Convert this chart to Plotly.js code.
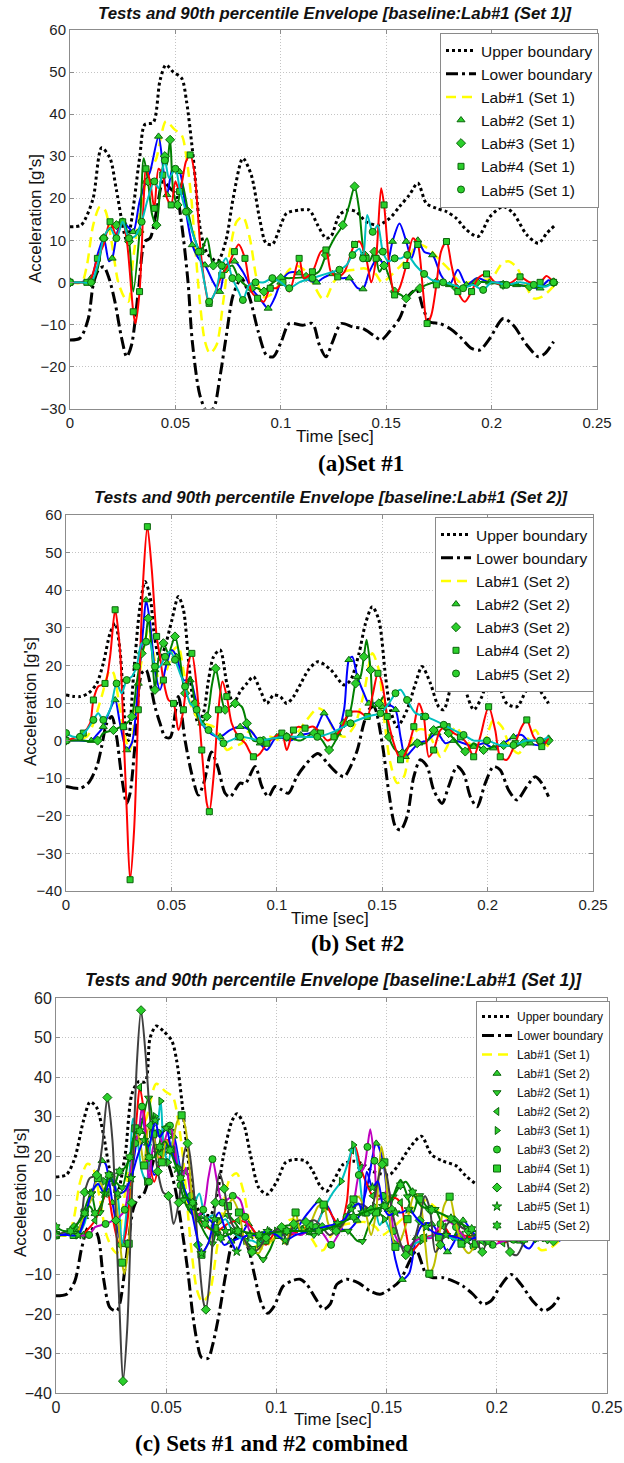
<!DOCTYPE html>
<html><head><meta charset="utf-8">
<script src="https://cdn.plot.ly/plotly-3.0.1.min.js"></script>
<style>html,body{margin:0;padding:0;background:#fff}#chart{width:624px;height:1463px}</style>
</head><body><div id="chart"></div>
<script>
// ---------- DATA (time [sec], acceleration [g's]) ----------
const A_UP = [[0,13.2],[0.005,13.5],[0.007,14.8],[0.011,20],[0.015,32],[0.019,29.5],[0.022,22],[0.027,10],[0.033,29.5],[0.0355,37.5],[0.0395,38],[0.0427,48],[0.0455,51.7],[0.049,50],[0.053,48.5],[0.0553,43],[0.0585,29.5],[0.062,12],[0.065,7],[0.07,5],[0.074,10],[0.0774,20],[0.082,29.5],[0.086,25.5],[0.09,15],[0.093,9.3],[0.096,9],[0.1,13.6],[0.1027,16.4],[0.109,17.2],[0.1135,17.2],[0.1175,13.6],[0.1214,10.5],[0.1238,10.9],[0.1278,16],[0.1317,17.2],[0.1357,16.8],[0.1405,14.4],[0.146,13.6],[0.1516,15.2],[0.1563,18],[0.161,20.8],[0.165,23.6],[0.169,18.8],[0.1738,17.6],[0.1786,16.8],[0.1833,15.2],[0.188,12.5],[0.1936,10.9],[0.1992,15.6],[0.2055,18],[0.2103,16.4],[0.2167,11.3],[0.2222,9.3],[0.2262,11.7],[0.2302,13.6]];
const A_LO = [[0,-13.7],[0.0047,-13.3],[0.0087,-8.6],[0.011,-0.6],[0.0135,3],[0.016,3.7],[0.0185,1],[0.0213,-4.6],[0.0245,-13.3],[0.0269,-17.7],[0.0292,-14.9],[0.0324,-2.2],[0.0355,9.7],[0.038,10.5],[0.041,16.8],[0.0442,24],[0.0474,22.4],[0.0505,20.8],[0.053,13.7],[0.056,0],[0.058,-14],[0.0616,-26.8],[0.0648,-30.5],[0.068,-30],[0.071,-22.9],[0.0742,-12.5],[0.0774,-3],[0.0814,1],[0.0853,-3.8],[0.0893,-11.7],[0.0932,-17.3],[0.0964,-17.7],[0.1003,-14],[0.104,-9.8],[0.1103,-10.2],[0.115,-9.8],[0.1183,-14.9],[0.1214,-17.7],[0.1246,-14.1],[0.1286,-9.8],[0.1341,-10.6],[0.1389,-11],[0.1437,-12.5],[0.1476,-13.7],[0.1516,-11.7],[0.1563,-8.6],[0.161,-3],[0.1645,-1.8],[0.1675,-6.2],[0.1706,-9.4],[0.1754,-9.8],[0.1802,-11],[0.1849,-12.9],[0.1905,-15.7],[0.1944,-16.1],[0.1992,-13.3],[0.2055,-8.6],[0.2103,-10.2],[0.2167,-14.9],[0.2222,-17.7],[0.2254,-16.9],[0.2294,-14.1]];
const A_L1 = [[0,0],[0.0055,0],[0.008,4],[0.011,13.6],[0.0142,18],[0.0166,17.2],[0.0197,9.7],[0.0229,0],[0.026,-3.8],[0.0277,-4.6],[0.03,5.7],[0.0332,16.8],[0.037,25.6],[0.041,29.5],[0.0427,33.5],[0.0455,38.3],[0.0497,36.3],[0.053,35],[0.0553,29.5],[0.0577,19.2],[0.0592,9.7],[0.0616,-4.6],[0.064,-14],[0.0664,-16.9],[0.0695,-14.9],[0.0727,-4.6],[0.0758,7.3],[0.079,14.4],[0.082,15.6],[0.0853,10.5],[0.0885,1],[0.0916,-3.5],[0.095,-3],[0.1,0],[0.104,3],[0.107,4],[0.111,3],[0.115,0],[0.1195,-3.8],[0.1214,-3.8],[0.125,0],[0.13,2.5],[0.135,3],[0.14,3.3],[0.145,2],[0.148,0],[0.152,1.5],[0.156,3.5],[0.16,5.5],[0.165,9],[0.17,8],[0.175,5.5],[0.18,3],[0.185,0],[0.19,0],[0.195,0.5],[0.2,1],[0.205,4.5],[0.208,5],[0.212,3.5],[0.216,-0.6],[0.22,-3.8],[0.224,-3.4],[0.23,-0.6]];
const A_L2 = [[0,0],[0.005,0],[0.01,1],[0.013,6.5],[0.016,10.5],[0.0185,5],[0.02,5.7],[0.0225,12],[0.025,14.4],[0.028,12.9],[0.03,12],[0.033,19.2],[0.036,24],[0.038,26.3],[0.042,34.7],[0.044,28],[0.046,20.8],[0.049,27.5],[0.052,26.3],[0.055,16.8],[0.058,8.9],[0.061,5.7],[0.064,4.1],[0.068,0],[0.071,-2.2],[0.074,4],[0.078,5],[0.082,2.5],[0.086,-1.4],[0.09,-3.8],[0.094,-6.2],[0.097,-3.8],[0.1,0],[0.104,2.3],[0.1087,2.2],[0.1135,0.5],[0.117,0],[0.12,1],[0.1246,2],[0.1286,1],[0.1325,1],[0.1365,-1.4],[0.139,-1.6],[0.142,2.5],[0.146,5.7],[0.15,4],[0.153,9.7],[0.1563,14],[0.1595,9.7],[0.162,5.7],[0.165,10],[0.168,7.3],[0.172,6.5],[0.176,1.7],[0.18,-0.6],[0.184,3],[0.188,-0.6],[0.193,1],[0.199,0],[0.2055,0],[0.2119,-0.6],[0.218,-1],[0.223,-1.4],[0.227,0.5],[0.2294,0]];
const A_L3 = [[0,0],[0.005,0],[0.01,0],[0.013,3],[0.016,10.5],[0.019,12.9],[0.022,13.6],[0.025,15.2],[0.028,9.7],[0.03,-2.2],[0.033,12],[0.035,29.5],[0.037,24],[0.039,16],[0.041,13.6],[0.043,24],[0.045,30],[0.046,27.9],[0.0475,33.9],[0.049,21.6],[0.051,18.4],[0.053,24],[0.056,16.8],[0.059,10.5],[0.062,7.3],[0.065,10.5],[0.068,4],[0.071,5],[0.074,3.3],[0.077,4],[0.08,1],[0.083,-0.6],[0.086,-1.4],[0.089,-1.4],[0.092,-2.2],[0.095,-0.6],[0.1,1],[0.104,1],[0.112,1.3],[0.118,2.5],[0.1214,6.5],[0.1254,10.5],[0.1294,13.6],[0.1325,18.4],[0.135,22.8],[0.1373,16.8],[0.1397,6.5],[0.142,5],[0.1444,7.3],[0.1468,2.5],[0.149,4],[0.1516,1],[0.154,-2.2],[0.157,-3],[0.1595,-3.8],[0.1627,-2.2],[0.166,-1.4],[0.169,-0.6],[0.1738,0],[0.1786,-0.6],[0.1833,-1.4],[0.188,-1],[0.193,0],[0.199,0],[0.2055,-0.6],[0.2119,-0.6],[0.218,-1],[0.2246,-1],[0.2294,0]];
const A_L4 = [[0,0],[0.005,0],[0.008,0],[0.01,1],[0.013,5.7],[0.016,9],[0.019,14.4],[0.022,11.3],[0.025,14.4],[0.027,9.7],[0.03,-7],[0.031,-9.8],[0.033,-2.2],[0.035,20],[0.036,27],[0.038,24],[0.04,17.6],[0.042,27],[0.044,25.5],[0.046,20],[0.048,18.4],[0.05,24],[0.052,21.6],[0.055,28.7],[0.057,30.3],[0.059,26.3],[0.062,7.3],[0.064,-0.6],[0.066,-5],[0.069,-2.2],[0.072,1.7],[0.075,4],[0.078,7.3],[0.08,9],[0.083,5.7],[0.086,-2.2],[0.089,-3.8],[0.092,-4.6],[0.095,-1.4],[0.098,-1.4],[0.101,0],[0.104,-2.2],[0.1087,5.7],[0.111,1],[0.115,2.5],[0.119,7.3],[0.1214,7.7],[0.1238,2.5],[0.127,1.3],[0.1302,2.5],[0.135,9],[0.1373,9.7],[0.1405,5.7],[0.1429,0],[0.1452,5.7],[0.1476,22.4],[0.149,18.4],[0.1516,3.3],[0.154,-3],[0.1563,-1.4],[0.1595,4],[0.1627,10.5],[0.165,9],[0.1675,-2.2],[0.1694,-9.8],[0.1714,-7.8],[0.1738,-0.6],[0.176,7.3],[0.1786,9.7],[0.181,4],[0.184,-2.2],[0.1873,-4.6],[0.1905,-2.2],[0.1936,1],[0.1976,2],[0.2016,0],[0.2055,-0.6],[0.2095,0],[0.2135,1.3],[0.218,0],[0.223,0],[0.226,1.5],[0.2294,0]];
const A_L5 = [[0,0],[0.005,0],[0.01,0],[0.013,4],[0.016,10.5],[0.019,12.9],[0.022,10.5],[0.025,14.4],[0.028,10.5],[0.031,11],[0.034,14.4],[0.037,20],[0.04,24],[0.042,22.4],[0.045,29],[0.047,24.8],[0.05,27],[0.052,22.4],[0.055,16.8],[0.058,12],[0.061,7.3],[0.064,-0.6],[0.066,-4.6],[0.069,-2.2],[0.072,4],[0.074,5.7],[0.077,1],[0.08,-2.2],[0.082,-4.2],[0.085,-0.6],[0.088,0],[0.092,0],[0.096,1],[0.1,0],[0.104,-1.4],[0.1087,0],[0.115,1],[0.1214,2],[0.1278,3],[0.131,4],[0.134,6.5],[0.1373,8],[0.139,5.7],[0.141,16],[0.1436,12],[0.146,13.6],[0.1484,7.3],[0.151,5],[0.154,5.7],[0.157,5.7],[0.16,6.5],[0.164,4],[0.168,2],[0.172,0.5],[0.177,0],[0.1818,-0.6],[0.1865,-1.4],[0.191,-0.6],[0.196,-1.8],[0.2,0],[0.2071,-0.6],[0.2135,0],[0.22,-0.6],[0.226,-1],[0.2294,0]];

const B_UP = [[0,12.1],[0.0066,11.7],[0.0106,12.6],[0.0146,15.2],[0.0177,20.6],[0.0209,28.5],[0.0233,31.2],[0.0256,24.1],[0.028,4.6],[0.0296,0],[0.032,17],[0.0351,35.6],[0.0375,42.3],[0.0399,38.3],[0.0422,26.8],[0.0446,21.5],[0.047,25],[0.0502,32],[0.0533,38.3],[0.0557,34.8],[0.0581,21.5],[0.0604,9.9],[0.0628,4.6],[0.0652,7.3],[0.0676,16.1],[0.07,22.3],[0.0731,24.1],[0.0763,15.2],[0.0794,9.9],[0.0826,13],[0.0858,15.2],[0.0889,17],[0.0921,13.5],[0.0953,9.9],[0.0984,12.1],[0.1016,11.7],[0.1047,9.9],[0.1079,11.7],[0.1114,15.2],[0.115,18.8],[0.1195,21],[0.1256,18.8],[0.1319,14.8],[0.135,16.1],[0.139,23.2],[0.1421,31.2],[0.1453,35.6],[0.1484,32.1],[0.1516,17],[0.1539,8.2],[0.1571,3.7],[0.1618,8.2],[0.1658,15.2],[0.1689,19.7],[0.1729,15.2],[0.1768,9],[0.1792,8.2],[0.1831,15.2],[0.1863,17.9],[0.1894,13.5],[0.1934,8.2],[0.1973,11.7],[0.2013,17.9],[0.2044,16.1],[0.2091,9.9],[0.2139,9],[0.2186,13.5],[0.2226,15.2],[0.2257,12.6],[0.2289,9.9]];
const B_LO = [[0,-12.2],[0.0066,-12.7],[0.0106,-11.3],[0.0146,-6.9],[0.0169,-1.6],[0.0193,4.6],[0.0217,6.4],[0.024,1],[0.0264,-9.6],[0.0288,-16.7],[0.0304,-14],[0.0328,-0.7],[0.0359,17.9],[0.038,18.8],[0.0399,15.2],[0.0422,9],[0.0446,4.6],[0.047,1],[0.0494,0.8],[0.0533,11.7],[0.0565,0],[0.0597,-9],[0.0628,-14.5],[0.0655,-11],[0.069,-3],[0.072,-7],[0.0755,-14],[0.0778,-15],[0.0826,-11.3],[0.085,-11.5],[0.0897,-6.9],[0.0929,-12.2],[0.096,-14.9],[0.0992,-12.2],[0.1024,-13.1],[0.1055,-14],[0.1095,-9.6],[0.1142,-6],[0.1195,-3.4],[0.124,-6],[0.1287,-8.7],[0.1319,-9.6],[0.135,-6.9],[0.1382,-2.5],[0.1413,4.6],[0.1437,8.2],[0.1461,9],[0.15,-0.7],[0.1532,-14],[0.1563,-22.9],[0.1587,-23.8],[0.1618,-20.2],[0.165,-9.6],[0.1681,-5.1],[0.1713,-6.9],[0.1744,-13.1],[0.1784,-16.7],[0.1815,-12.2],[0.1855,-6.9],[0.1886,-8.7],[0.1918,-14.9],[0.195,-17.6],[0.1989,-11.3],[0.2028,-6.9],[0.206,-7.8],[0.2099,-13.1],[0.2139,-15.8],[0.2186,-12.2],[0.2226,-9.6],[0.2257,-11.3],[0.2289,-14.9]];
const B_L1 = [[0,0],[0.0098,1],[0.013,4.6],[0.0169,11.7],[0.0209,18.8],[0.0225,18],[0.0256,8.2],[0.0288,-0.7],[0.0304,-2.5],[0.0335,11.7],[0.0367,24.1],[0.039,29.4],[0.0415,23.2],[0.0446,15.2],[0.0478,18.8],[0.051,24.1],[0.0533,25],[0.0557,18.8],[0.0589,9.9],[0.062,6.4],[0.0652,4.6],[0.07,3.7],[0.0731,1],[0.0763,-2.5],[0.0794,-1.6],[0.0834,-0.7],[0.0873,2.8],[0.0921,-0.7],[0.0968,1],[0.1016,0],[0.1079,1],[0.1142,5.5],[0.1195,8.6],[0.1232,7.3],[0.1271,2.8],[0.1319,1],[0.1366,3.7],[0.1413,12.6],[0.1453,23.2],[0.1484,18.8],[0.1508,6.4],[0.1539,-6],[0.1571,-11.3],[0.1603,-9.6],[0.1634,-0.7],[0.1666,2.8],[0.1705,2.8],[0.1744,-0.7],[0.1776,-4.3],[0.1808,-1.6],[0.1847,3.7],[0.1886,1],[0.1934,-1.6],[0.1981,-0.7],[0.2028,5.5],[0.2068,3.7],[0.2107,-1.6],[0.2147,-3.4],[0.2186,0],[0.2226,2.8],[0.2257,0],[0.2289,-1.6]];
const B_L2 = [[0,0],[0.006,0],[0.012,0],[0.0146,1.5],[0.0177,3.7],[0.0209,8.2],[0.0233,10.8],[0.0256,4.6],[0.0288,-2.5],[0.0312,-0.7],[0.0343,15.2],[0.0367,30.3],[0.038,37.4],[0.0399,31.2],[0.0422,18.8],[0.0446,13.5],[0.0478,20.6],[0.0502,24.1],[0.0525,22.3],[0.0557,16.1],[0.0589,16.1],[0.0612,11.7],[0.0644,4.6],[0.0684,2],[0.0731,1],[0.0778,2.8],[0.0826,3.7],[0.0873,2.8],[0.0921,-0.7],[0.0953,-2.5],[0.1,1],[0.1063,0],[0.1114,1.5],[0.1177,2.4],[0.1224,7.3],[0.1256,4.6],[0.1287,2],[0.1319,8.2],[0.1342,21.5],[0.1358,22.3],[0.1382,17],[0.1413,12.6],[0.1437,9.9],[0.1468,9.9],[0.15,9],[0.1532,9.5],[0.1563,8.2],[0.1587,1],[0.161,-4.3],[0.1642,-2.5],[0.1674,-0.7],[0.1713,0],[0.176,2],[0.18,-0.7],[0.1839,0],[0.1886,-0.7],[0.1934,-1.6],[0.1981,-0.7],[0.2028,-2],[0.2076,-0.7],[0.2123,1],[0.2162,1.5],[0.2202,-0.7],[0.2249,-1.2],[0.2289,0.6]];
const B_L3 = [[0,0],[0.008,0],[0.015,0],[0.0177,2],[0.0225,2.8],[0.0288,4.6],[0.0312,6.4],[0.0335,15.2],[0.0359,23.2],[0.0375,25.9],[0.039,32.5],[0.0407,24.1],[0.0422,13.5],[0.0438,21.5],[0.0462,25.9],[0.0486,23.2],[0.0517,27.7],[0.0541,21.5],[0.0565,12.6],[0.0589,17],[0.0612,9.9],[0.0636,4.6],[0.0668,6.4],[0.0691,14.4],[0.071,19.2],[0.0731,13.5],[0.0755,8.2],[0.0778,9],[0.0802,9.9],[0.0834,9],[0.0858,4.6],[0.0889,0],[0.0937,0],[0.0984,0.6],[0.1047,1],[0.111,0],[0.1177,2],[0.1216,0],[0.1248,-2.5],[0.1279,0],[0.1319,4.6],[0.135,8.2],[0.1374,15.2],[0.1397,17],[0.1413,22.3],[0.1426,26.8],[0.1445,18.8],[0.1461,9],[0.1484,9.9],[0.1508,11.7],[0.1532,1],[0.1563,-2.5],[0.1595,-3.4],[0.1626,-1.6],[0.1666,-0.7],[0.1705,-0.7],[0.1744,2.8],[0.1776,3.7],[0.1815,2],[0.1855,-0.7],[0.1894,-2.9],[0.1934,-0.7],[0.1981,-2.5],[0.2028,-1.6],[0.2076,-1.2],[0.2123,-1.6],[0.217,-0.7],[0.2218,0],[0.2289,0]];
const B_L4 = [[0,0],[0.005,1],[0.0082,2],[0.0114,4.6],[0.013,10.8],[0.0153,14.4],[0.0185,15.2],[0.0209,22.3],[0.0233,34.8],[0.0256,24.1],[0.0272,3.7],[0.0288,-18.4],[0.0304,-37],[0.0323,-23.8],[0.0343,8.2],[0.0367,43.6],[0.0386,56.9],[0.0407,45.4],[0.043,27.7],[0.0446,22.3],[0.0462,16.1],[0.0486,10.8],[0.051,9.9],[0.0533,2.8],[0.0557,8.2],[0.0581,20.6],[0.0597,23.2],[0.062,14.4],[0.0644,-2.5],[0.0668,-16.7],[0.068,-18.9],[0.07,-9.6],[0.0723,8.2],[0.0742,15.7],[0.0763,11.7],[0.0786,4.6],[0.0818,1],[0.085,-0.7],[0.0889,-4.3],[0.0921,-3.4],[0.0953,-0.7],[0.0992,1],[0.1024,2],[0.1047,-2.5],[0.1079,2.8],[0.1103,3.7],[0.1134,3.3],[0.1174,3.7],[0.1208,2],[0.124,0],[0.1271,1],[0.1303,2.8],[0.1342,7.3],[0.139,7.7],[0.1429,6.4],[0.1453,11.7],[0.148,17.9],[0.15,15.2],[0.1524,6.4],[0.1555,-0.7],[0.1587,-5.1],[0.1618,-2.5],[0.165,3.7],[0.1674,9.9],[0.1697,6.4],[0.1721,-4.3],[0.1744,-2.5],[0.1776,2.8],[0.1808,3.7],[0.1839,2],[0.1871,1],[0.1902,-0.7],[0.1934,-4.3],[0.1965,1],[0.2005,9],[0.2036,2.8],[0.206,-4.3],[0.2091,-5.1],[0.2131,-0.7],[0.2162,3.7],[0.2186,5.5],[0.2218,1],[0.2257,-1.6],[0.2289,0.6]];
const B_L5 = [[0,2],[0.0035,1],[0.0066,1],[0.0098,2.8],[0.013,5.5],[0.0153,7.3],[0.0177,5.5],[0.0209,8.2],[0.024,15.2],[0.0264,12.6],[0.0288,16.1],[0.0312,17],[0.0335,19.7],[0.0359,25.9],[0.038,26.3],[0.0399,25.9],[0.0422,19.7],[0.0446,19.7],[0.047,22.3],[0.0494,23.7],[0.0517,21.5],[0.0541,17.9],[0.0565,14.4],[0.0589,9.9],[0.062,8.2],[0.0644,4.6],[0.0676,2.8],[0.0715,1],[0.0747,-0.7],[0.0778,0],[0.0826,1],[0.0873,0.6],[0.0921,0],[0.0984,0.6],[0.1047,1],[0.111,1],[0.1192,1],[0.1271,2.4],[0.135,4.6],[0.1429,6.4],[0.1492,7.3],[0.1532,9.9],[0.1563,12.6],[0.1587,13.5],[0.1618,10.8],[0.1658,7.3],[0.1705,6.4],[0.1744,5.5],[0.1792,4.2],[0.1839,2.8],[0.1886,1.5],[0.1934,0],[0.1997,0],[0.206,-1.2],[0.2123,-1.2],[0.2186,0],[0.2249,0],[0.2289,1]];

const C_UP = [[0,14.7],[0.0048,15.3],[0.0086,19.6],[0.0124,28.8],[0.0155,33.7],[0.0185,32.2],[0.0215,25.5],[0.0245,16],[0.0276,10.3],[0.0314,20.4],[0.0344,35.6],[0.0374,38.8],[0.0405,38.8],[0.0427,49.9],[0.0455,52.9],[0.0488,51.6],[0.0526,49.1],[0.0548,44],[0.0571,33.9],[0.0594,22.1],[0.0617,12],[0.065,6],[0.07,5],[0.073,10],[0.0761,20.4],[0.0798,28.8],[0.0821,30.7],[0.0852,28],[0.0882,20.4],[0.092,12],[0.0958,10.3],[0.1003,13.7],[0.1041,18.3],[0.1079,19.1],[0.1132,18.7],[0.1165,16.2],[0.1199,12.4],[0.1229,11.1],[0.1259,13.7],[0.1304,17.9],[0.1349,18.7],[0.1395,17.9],[0.1432,16.2],[0.147,15.5],[0.1515,15.3],[0.156,18.3],[0.1605,22.1],[0.1658,25],[0.1703,20.4],[0.1756,18.7],[0.1816,17.5],[0.1861,14.9],[0.1922,12.4],[0.197,12],[0.2,12.5],[0.205,13.5],[0.21,13],[0.215,12],[0.22,10.8],[0.223,10.3],[0.227,11.5],[0.23,12.5]];
const C_LO = [[0,-15.4],[0.0048,-15],[0.0086,-11.6],[0.0117,-3.2],[0.0147,1.9],[0.0185,0.5],[0.0215,-10.8],[0.0245,-18.4],[0.0276,-19.2],[0.0291,-17],[0.0321,-4.9],[0.0352,6.9],[0.0374,9.4],[0.0397,10.3],[0.042,14],[0.045,20],[0.048,22],[0.051,18],[0.054,12],[0.057,2],[0.06,-10],[0.062,-20],[0.064,-27],[0.066,-31],[0.069,-31.2],[0.071,-28],[0.074,-20],[0.077,-10],[0.08,-2],[0.083,0],[0.087,-3],[0.09,-10],[0.093,-17],[0.096,-19.8],[0.099,-18],[0.103,-13],[0.107,-11.6],[0.1108,-11.2],[0.1138,-12.5],[0.1176,-15.9],[0.1214,-18.8],[0.1244,-17.5],[0.1274,-12.5],[0.1319,-11.2],[0.1372,-12.1],[0.1425,-14.2],[0.147,-15],[0.1515,-13.7],[0.156,-11.6],[0.1605,-6.6],[0.1635,-4],[0.168,-10],[0.1711,-10.8],[0.1756,-10.8],[0.18,-11.6],[0.1846,-12.9],[0.1892,-15],[0.1937,-17.5],[0.1974,-16.7],[0.2012,-13.3],[0.2065,-10],[0.211,-12.5],[0.2163,-16.7],[0.2215,-19.2],[0.2253,-18],[0.229,-15]];

const TITLE_A = "Tests and 90th percentile Envelope [baseline:Lab#1 (Set 1)]";
const TITLE_B = "Tests and 90th percentile Envelope [baseline:Lab#1 (Set 2)]";
const TITLE_C = "Tests and 90th percentile Envelope [baseline:Lab#1 (Set 1)]";
const CAPTIONS = ["(a)Set #1", "(b) Set #2", "(c) Sets #1 and #2 combined"];
const X_TITLE = "Time [sec]";
const Y_TITLE = "Acceleration [g's]";

// ---------- STYLE / LAYOUT ----------
const W = 624, H = 1463;
const SANS = "Liberation Sans, Arial, sans-serif";
const SERIF = "Liberation Serif, Times New Roman, serif";
const MK_FILL = '#2bcf2b', MK_EDGE = '#0b650b';
const COL = {blue:'#0000ff', green:'#008000', red:'#ff0000', cyan:'#00bfbf', mag:'#bf00bf', olive:'#bfbf00', gray:'#404040', yellow:'#ffff00'};
const LO_DASH = '12px,4px,3px,4px';
const Y_DASH = '10px,6px';

function xs(p){return p.map(q=>q[0]);}
function ys(p){return p.map(q=>q[1]);}
function ax(n){return n===1?'':String(n);}
function lineT(p, n, color, width, dash, name, leg){
  return {type:'scatter', mode:'lines', x:xs(p), y:ys(p), xaxis:'x'+ax(n), yaxis:'y'+ax(n),
    line:{color:color, width:width, dash:dash||'solid', shape:'spline', smoothing:0.8},
    name:name||'', showlegend:!!name, legend:leg, hoverinfo:'skip'};
}
function markT(p, n, symbol, name, leg, size){
  const s = p.filter((q,i)=>i%2===0);
  return {type:'scatter', mode:'markers', x:xs(s), y:ys(s), xaxis:'x'+ax(n), yaxis:'y'+ax(n),
    marker:{symbol:symbol, size:size, color:MK_FILL, line:{color:MK_EDGE, width:1}},
    name:name, showlegend:true, legend:leg, hoverinfo:'skip'};
}

const traces = [];
// Panel (a)
traces.push(lineT(A_UP,1,'#000',3,'dot','Upper boundary','legend'));
traces.push(lineT(A_LO,1,'#000',3,LO_DASH,'Lower boundary','legend'));
traces.push(lineT(A_L1,1,COL.yellow,2.5,Y_DASH,'Lab#1 (Set 1)','legend'));
traces.push(lineT(A_L2,1,COL.blue,2)); traces.push(markT(A_L2,1,'triangle-up','Lab#2 (Set 1)','legend',7));
traces.push(lineT(A_L3,1,COL.green,2)); traces.push(markT(A_L3,1,'diamond','Lab#3 (Set 1)','legend',7));
traces.push(lineT(A_L4,1,COL.red,2)); traces.push(markT(A_L4,1,'square','Lab#4 (Set 1)','legend',6));
traces.push(lineT(A_L5,1,COL.cyan,2)); traces.push(markT(A_L5,1,'circle','Lab#5 (Set 1)','legend',7));
// Panel (b)
traces.push(lineT(B_UP,2,'#000',3,'dot','Upper boundary','legend2'));
traces.push(lineT(B_LO,2,'#000',3,LO_DASH,'Lower boundary','legend2'));
traces.push(lineT(B_L1,2,COL.yellow,2.5,Y_DASH,'Lab#1 (Set 2)','legend2'));
traces.push(lineT(B_L2,2,COL.blue,2)); traces.push(markT(B_L2,2,'triangle-up','Lab#2 (Set 2)','legend2',7));
traces.push(lineT(B_L3,2,COL.green,2)); traces.push(markT(B_L3,2,'diamond','Lab#3 (Set 2)','legend2',7));
traces.push(lineT(B_L4,2,COL.red,2)); traces.push(markT(B_L4,2,'square','Lab#4 (Set 2)','legend2',6));
traces.push(lineT(B_L5,2,COL.cyan,2)); traces.push(markT(B_L5,2,'circle','Lab#5 (Set 2)','legend2',7));
// Panel (c)
traces.push(lineT(C_UP,3,'#000',3,'dot','Upper boundary','legend3'));
traces.push(lineT(C_LO,3,'#000',3,LO_DASH,'Lower boundary','legend3'));
traces.push(lineT(A_L1,3,COL.yellow,2.5,Y_DASH,'Lab#1 (Set 1)','legend3'));
const cSeries = [
  [B_L1, COL.blue,  'triangle-up',   'Lab#1 (Set 2)'],
  [A_L2, COL.green, 'triangle-down', 'Lab#2 (Set 1)'],
  [B_L2, COL.red,   'triangle-left', 'Lab#2 (Set 2)'],
  [A_L3, COL.cyan,  'triangle-right','Lab#3 (Set 1)'],
  [B_L3, COL.mag,   'circle',        'Lab#3 (Set 2)'],
  [A_L4, COL.olive, 'square',        'Lab#4 (Set 1)'],
  [B_L4, COL.gray,  'diamond',       'Lab#4 (Set 2)'],
  [A_L5, COL.blue,  'star',          'Lab#5 (Set 1)'],
  [B_L5, COL.green, 'hexagram',      'Lab#5 (Set 2)']
];
cSeries.forEach(s=>{ traces.push(lineT(s[0],3,s[1],2)); traces.push(markT(s[0],3,s[2],s[3],'legend3',7)); });

// geometry in pixels
const P = [
  {x0:70, x1:597, y0:30,  y1:408.5, ymin:-30, tick:15},
  {x0:66, x1:593, y0:515, y1:891,   ymin:-40, tick:15},
  {x0:56, x1:607, y0:998, y1:1393,  ymin:-40, tick:16}
];
function xaxisCfg(p, n){
  return {domain:[p.x0/W, p.x1/W], anchor:'y'+ax(n), range:[0,0.25], tick0:0, dtick:0.05,
    showgrid:true, gridcolor:'#c4c4c4', griddash:'1px,2px', gridwidth:1, zeroline:false,
    showline:true, linecolor:'#8c8c8c', linewidth:1, mirror:'ticks', ticks:'inside', ticklen:4, tickcolor:'#8c8c8c',
    tickfont:{family:SANS, size:p.tick, color:'#1e1e1e'}, fixedrange:true};
}
function yaxisCfg(p, n){
  return {domain:[1-p.y1/H, 1-p.y0/H], anchor:'x'+ax(n), range:[p.ymin,60], tick0:0, dtick:10,
    showgrid:true, gridcolor:'#c4c4c4', griddash:'1px,2px', gridwidth:1, zeroline:false,
    showline:true, linecolor:'#8c8c8c', linewidth:1, mirror:'ticks', ticks:'inside', ticklen:4, tickcolor:'#8c8c8c',
    tickfont:{family:SANS, size:p.tick, color:'#1e1e1e'}, fixedrange:true};
}
function ann(text, px, py, font, extra){
  return Object.assign({text:text, x:px/W, y:1-py/H, xref:'paper', yref:'paper', showarrow:false,
    xanchor:'center', yanchor:'middle', font:font}, extra||{});
}
const tFont = s => ({family:SANS, size:s, color:'#111'});
const capFont = {family:SERIF, size:23, color:'#000'};

const annotations = [
  ann('<b><i>'+TITLE_A+'</i></b>', 335, 13, tFont(16.8)),
  ann('<b><i>'+TITLE_B+'</i></b>', 331, 497, tFont(16.8)),
  ann('<b><i>'+TITLE_C+'</i></b>', 333, 980, tFont(17.6)),
  ann(X_TITLE, 335, 436, tFont(17)),
  ann(X_TITLE, 330, 918, tFont(17)),
  ann(X_TITLE, 333, 1419, tFont(17)),
  ann(Y_TITLE, 35, 219, tFont(17), {textangle:-90}),
  ann(Y_TITLE, 30, 702, tFont(17), {textangle:-90}),
  ann(Y_TITLE, 20, 1193, tFont(17), {textangle:-90}),
  ann('<b>'+CAPTIONS[0]+'</b>', 361, 463, capFont),
  ann('<b>'+CAPTIONS[1]+'</b>', 357, 943, capFont),
  ann('<b>'+CAPTIONS[2]+'</b>', 271, 1443, capFont)
];
function legCfg(left, top, size){
  return {x:left/W, y:1-top/H, xanchor:'left', yanchor:'top', xref:'paper', yref:'paper',
    bgcolor:'#ffffff', bordercolor:'#8a8a8a', borderwidth:1, itemwidth:30, tracegroupgap:0,
    font:{family:SANS, size:size, color:'#111'}};
}
const layout = {
  width:W, height:H, margin:{l:0,r:0,t:0,b:0}, paper_bgcolor:'#fff', plot_bgcolor:'#fff',
  font:{family:SANS}, showlegend:true, hovermode:false,
  xaxis:xaxisCfg(P[0],1), yaxis:yaxisCfg(P[0],1),
  xaxis2:xaxisCfg(P[1],2), yaxis2:yaxisCfg(P[1],2),
  xaxis3:xaxisCfg(P[2],3), yaxis3:yaxisCfg(P[2],3),
  legend:legCfg(440, 33, 15.5),
  legend2:legCfg(435, 517, 15.5),
  legend3:legCfg(476, 1001, 12),
  annotations:annotations
};
Plotly.newPlot('chart', traces, layout, {staticPlot:true, displayModeBar:false});
</script></body></html>
